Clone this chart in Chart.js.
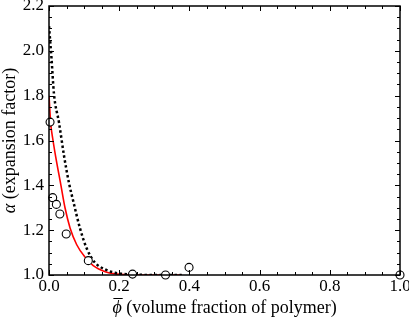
<!DOCTYPE html>
<html>
<head>
<meta charset="utf-8">
<script src="https://cdn.jsdelivr.net/npm/chart.js@4"></script>
<style>
  html, body { margin: 0; padding: 0; background: #fff; }
  #wrap { width: 409px; height: 322px; }
</style>
</head>
<body>
<div id="wrap"><canvas id="c" width="409" height="322"></canvas></div>
<script>
// measured points (open circles)
const pointsX = [0.003, 0.0105, 0.021, 0.031, 0.049, 0.112, 0.238, 0.332, 0.399, 1.0];
const pointsY = [1.682, 1.345, 1.315, 1.272, 1.183, 1.064, 1.004, 1.000, 1.034, 1.000];

// red solid curve
const redX = [0, 0.0048, 0.0105, 0.019, 0.034, 0.0456, 0.06, 0.079, 0.1026, 0.126, 0.16, 0.188, 0.23, 0.30, 0.378];
const redY = [1.80, 1.677, 1.61, 1.528, 1.40, 1.30, 1.21, 1.135, 1.08, 1.042, 1.015, 1.005, 1.001, 1.0, 1.0];

// black dotted curve
const dotX = [0, 0.007, 0.014, 0.0285, 0.043, 0.057, 0.069, 0.088, 0.107, 0.131, 0.16, 0.188, 0.23, 0.30, 0.378];
const dotY = [2.11, 1.97, 1.81, 1.68, 1.53, 1.41, 1.33, 1.21, 1.12, 1.055, 1.025, 1.01, 1.003, 1.0, 1.0];

const xTicks = [0.0, 0.2, 0.4, 0.6, 0.8, 1.0];
const yTicks = [1.0, 1.2, 1.4, 1.6, 1.8, 2.0, 2.2];

const serif = "'Liberation Serif', 'Times New Roman', serif";

const toXY = (xs, ys) => xs.map((x, i) => ({ x: x, y: ys[i] }));

// inward ticks on all four sides, closed frame, tick labels and axis titles
const framePlugin = {
   id: "frame",
   afterDraw(chart) {
      const ctx = chart.ctx;
      const a = chart.chartArea;
      const xs = chart.scales.x;
      const ys = chart.scales.y;
      ctx.save();
      ctx.strokeStyle = "#000";
      ctx.lineWidth = 1;
      ctx.beginPath();
      for (let i = 0; i <= 20; i++) {
         const v = i * 0.05;
         const px = Math.round(xs.getPixelForValue(v)) + 0.5;
         const len = i % 4 === 0 ? 5 : 3;
         ctx.moveTo(px, a.bottom); ctx.lineTo(px, a.bottom - len);
         ctx.moveTo(px, a.top); ctx.lineTo(px, a.top + len);
      }
      for (let i = 0; i <= 24; i++) {
         const v = 1 + i * 0.05;
         const py = Math.round(ys.getPixelForValue(v)) + 0.5;
         const len = i % 4 === 0 ? 5 : 3;
         ctx.moveTo(a.left, py); ctx.lineTo(a.left + len, py);
         ctx.moveTo(a.right, py); ctx.lineTo(a.right - len, py);
      }
      ctx.stroke();
      ctx.lineWidth = 1.5;
      ctx.strokeRect(a.left, a.top, a.right - a.left, a.bottom - a.top);

      // tick labels
      ctx.fillStyle = "#000";
      ctx.font = "17px " + serif;
      ctx.textAlign = "center";
      ctx.textBaseline = "middle";
      xTicks.forEach(v => ctx.fillText(v.toFixed(1), xs.getPixelForValue(v), a.bottom + 12));
      ctx.textAlign = "right";
      yTicks.forEach(v => ctx.fillText(v.toFixed(1), a.left - 5, ys.getPixelForValue(v)));

      // x title: italic phi with bar, rest upright
      ctx.textBaseline = "alphabetic";
      ctx.textAlign = "left";
      const symFont = "italic 18px " + serif;
      const txtFont = "18px " + serif;
      const rest = " (volume fraction of polymer)";
      ctx.font = symFont;
      const wSym = ctx.measureText("\u03d5").width;
      ctx.font = txtFont;
      const wRest = ctx.measureText(rest).width;
      let x0 = (a.left + a.right) / 2 - (wSym + wRest) / 2;
      const base = 313;
      ctx.font = symFont;
      ctx.fillText("\u03d5", x0, base);
      ctx.lineWidth = 1;
      ctx.beginPath();
      ctx.moveTo(x0 + 1, base - 14.5); ctx.lineTo(x0 + wSym + 1, base - 14.5);
      ctx.stroke();
      ctx.font = txtFont;
      ctx.fillText(rest, x0 + wSym, base);

      // y title rotated
      ctx.save();
      ctx.translate(10, (a.top + a.bottom) / 2);
      ctx.rotate(-Math.PI / 2);
      const yRest = " (expansion factor)";
      ctx.font = symFont;
      const wA = ctx.measureText("\u03b1").width;
      ctx.font = txtFont;
      const wY = ctx.measureText(yRest).width;
      let y0 = -(wA + wY) / 2;
      ctx.textBaseline = "middle";
      ctx.font = symFont;
      ctx.fillText("\u03b1", y0, 0);
      ctx.font = txtFont;
      ctx.fillText(yRest, y0 + wA, 0);
      ctx.restore();
      ctx.restore();
   }
};

new Chart(document.getElementById("c"), {
   type: "scatter",
   data: {
      datasets: [
         {
            label: "data",
            data: toXY(pointsX, pointsY),
            pointRadius: 4,
            pointBackgroundColor: "#fff",
            pointBorderColor: "#000",
            pointBorderWidth: 1.1,
            showLine: false,
            clip: false,
            order: 0,
         },
         {
            label: "dotted",
            data: toXY(dotX, dotY),
            showLine: true,
            borderColor: "#000",
            borderWidth: 2.5,
            borderDash: [2.5, 2.5],
            pointRadius: 0,
            cubicInterpolationMode: "monotone",
            order: 1,
         },
         {
            label: "red",
            data: toXY(redX, redY),
            showLine: true,
            borderColor: "#ff0000",
            borderWidth: 1.6,
            pointRadius: 0,
            cubicInterpolationMode: "monotone",
            order: 2,
         },
      ],
   },
   options: {
      responsive: false,
      animation: false,
      devicePixelRatio: 1,
      layout: { padding: { top: 6, right: 9, left: 0, bottom: 0 } },
      plugins: { legend: { display: false }, tooltip: { enabled: false } },
      scales: {
         x: {
            type: "linear",
            min: 0,
            max: 1,
            afterBuildTicks: (s) => { s.ticks = xTicks.map(v => ({ value: v })); },
            afterFit: (s) => { s.height = 47; s.paddingLeft = 0; s.paddingRight = 0; },
            grid: { display: false, drawTicks: false },
            border: { display: false },
            ticks: { display: false },
         },
         y: {
            type: "linear",
            min: 1.0,
            max: 2.2,
            afterBuildTicks: (s) => { s.ticks = yTicks.map(v => ({ value: v })); },
            afterFit: (s) => { s.width = 49; s.paddingTop = 0; s.paddingBottom = 0; },
            grid: { display: false, drawTicks: false },
            border: { display: false },
            ticks: { display: false },
         },
      },
   },
   plugins: [framePlugin],
});
</script>
</body>
</html>
